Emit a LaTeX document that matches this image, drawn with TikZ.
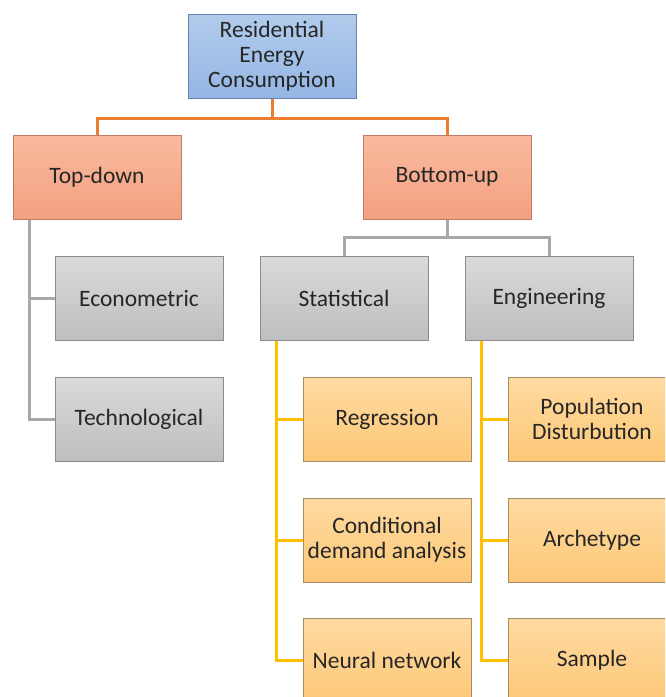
\documentclass[tikz,border=0pt]{standalone}
\usepackage{fontspec}
\setmainfont{Carlito}
\usetikzlibrary{positioning,calc}
\definecolor{RootTop}{RGB}{178,203,236}
\definecolor{RootBot}{RGB}{148,182,228}
\definecolor{RootEdge}{RGB}{105,130,170}
\definecolor{SalmonTop}{RGB}{250,186,158}
\definecolor{SalmonBot}{RGB}{243,160,128}
\definecolor{SalmonEdge}{RGB}{190,125,100}
\definecolor{GreyTop}{RGB}{218,218,218}
\definecolor{GreyBot}{RGB}{190,190,190}
\definecolor{GreyEdge}{RGB}{140,140,140}
\definecolor{SandTop}{RGB}{255,218,160}
\definecolor{SandBot}{RGB}{252,200,120}
\definecolor{SandEdge}{RGB}{165,140,100}
\definecolor{LineOrange}{RGB}{237,125,49}
\definecolor{LineGrey}{RGB}{168,168,168}
\definecolor{LineGold}{RGB}{255,192,0}
\tikzset{
  card/.style={minimum width=168pt,minimum height=84pt,inner sep=2pt,
    align=center,font=\fontsize{23.5}{25}\selectfont,text=black!85,line width=1pt},
  rootbox/.style={card,draw=RootEdge,top color=RootTop,bottom color=RootBot},
  salmonbox/.style={card,draw=SalmonEdge,top color=SalmonTop,bottom color=SalmonBot},
  greybox/.style={card,draw=GreyEdge,top color=GreyTop,bottom color=GreyBot},
  sandbox/.style={card,draw=SandEdge,top color=SandTop,bottom color=SandBot},
  orangelink/.style={line width=3pt,draw=LineOrange},
  greylink/.style={line width=3pt,draw=LineGrey},
  goldlink/.style={line width=3pt,draw=LineGold}
}
\begin{document}
\begin{tikzpicture}[x=1pt,y=-1pt]
  \useasboundingbox (0,0) rectangle (665,697);
  \clip (0,0) rectangle (665,697);
  % levels
  \node[rootbox] (root) at (272,56.5) {Residential\\Energy\\Consumption};
  \node[salmonbox] (topdown) at (97,177) {Top-down};
  \node[salmonbox] (bottomup) at (447,177) {Bottom-up};
  \node[greybox] (econ) at (139,298) {Econometric};
  \node[greybox] (tech) at (139,419) {Technological};
  \node[greybox] (stat) at (344,298) {Statistical};
  \node[greybox] (eng) at (549,298) {Engineering};
  \node[sandbox] (regr) at (387,419) {Regression};
  \node[sandbox] (cda) at (387,540) {Conditional\\demand analysis};
  \node[sandbox] (neural) at (387,660) {Neural network};
  \node[sandbox] (popul) at (592,419) {Population\\Disturbution};
  \node[sandbox] (arch) at (592,540) {Archetype};
  \node[sandbox] (sample) at (592,660) {Sample};
  % connectors
  \draw[orangelink] (root.south) -- ++(0,19) -| (topdown.north);
  \draw[orangelink] (root.south) -- ++(0,19) -| (bottomup.north);
  \draw[greylink] ([xshift=17pt]topdown.south west) |- (econ.west);
  \draw[greylink] ([xshift=17pt]topdown.south west) |- (tech.west);
  \draw[greylink] (bottomup.south) -- ++(0,18) -| (stat.north);
  \draw[greylink] (bottomup.south) -- ++(0,18) -| (eng.north);
  \foreach \leaf in {regr,cda,neural}
    \draw[goldlink] ([xshift=17pt]stat.south west) |- (\leaf.west);
  \foreach \leaf in {popul,arch,sample}
    \draw[goldlink] ([xshift=17pt]eng.south west) |- (\leaf.west);
\end{tikzpicture}
\end{document}
